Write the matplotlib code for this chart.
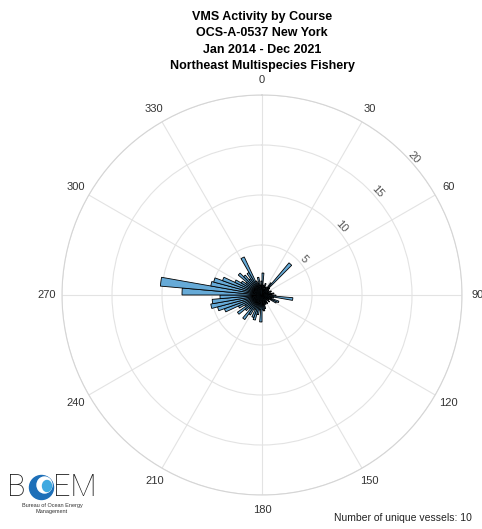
import numpy as np
import matplotlib
matplotlib.use("Agg")
import matplotlib.pyplot as plt
import matplotlib.patches as patches

plt.rcParams['font.family'] = ['Liberation Sans', 'DejaVu Sans']

bin_start = np.arange(0, 360, 5)
counts = [2.2, 1.0, 0.8, 1.2, 0.6, 0.9, 0.7, 1.5, 4.2, 1.0, 0.5, 0.8,
          0.6, 1.0, 0.7, 0.9, 1.2, 1.0, 1.4, 3.1, 1.2, 1.0, 1.8, 1.6,
          0.8, 0.6, 1.0, 0.7, 0.5, 1.0, 0.8, 1.0, 0.9, 1.4, 1.6, 1.5,
          2.7, 1.5, 2.0, 2.6, 2.4, 1.6, 2.3, 3.0, 1.8, 2.2, 3.0, 2.0,
          2.6, 4.0, 4.6, 5.2, 5.0, 4.2, 8.0, 10.2, 5.2, 5.0, 4.2, 3.0,
          2.4, 2.0, 3.1, 2.6, 2.0, 2.6, 4.2, 1.5, 1.2, 1.8, 1.0, 1.4]

theta_ticks = list(range(0, 360, 30))
r_ticks = [5, 10, 15, 20]
title_lines = ["VMS Activity by Course", "OCS-A-0537 New York",
               "Jan 2014 - Dec 2021", "Northeast Multispecies Fishery"]
n_vessels = 10

W, H = 482, 529
fig = plt.figure(figsize=(W / 100, H / 100), dpi=100)

# polar rose
cx, cy, R = 262, 295, 200
ax = fig.add_axes([(cx - R) / W, (H - cy - R) / H, 2 * R / W, 2 * R / H], projection='polar')
ax.set_theta_zero_location('N')
ax.set_theta_direction(-1)
ax.bar(np.deg2rad(bin_start + 2.5), counts, width=np.deg2rad(5),
       color=(0.4, 0.668, 0.845), edgecolor='black', linewidth=0.6, zorder=3)
ax.set_ylim(0, 20)
ax.set_yticks(r_ticks)
ax.set_yticklabels([str(r) for r in r_ticks], fontsize=8, color='#555555')
ax.set_rlabel_position(46)
ax.tick_params(axis='y', labelrotation=-47, pad=-3)
ax.set_xticks(np.deg2rad(theta_ticks))
ax.set_xticklabels([str(t) for t in theta_ticks], fontsize=8, color='#333333')
ax.tick_params(axis='x', pad=0.5)
ax.grid(True, color='#e3e3e3', linewidth=0.8)
ax.spines['polar'].set_color('#d5d5d5')
ax.spines['polar'].set_linewidth(0.8)

# title
for i, line in enumerate(title_lines):
    fig.text(cx / W, 1 - (17 + 16.5 * i) / H, line, ha='center', va='center',
             fontsize=9, fontweight='bold', color='black')

fig.text(472 / W, 1 - 518 / H, "Number of unique vessels: %d" % n_vessels,
         ha='right', va='center', fontsize=7.5, color='#222222')

# BOEM logo
lx = fig.add_axes([0, 0, 1, 1], facecolor='none')
lx.set_xlim(0, W)
lx.set_ylim(H, 0)
lx.axis('off')
logo_font = ['Roboto', 'DejaVu Sans']
lx.text(7, 487, "B", fontsize=22, fontweight='light', color='#1a1a1a',
        ha='left', va='center', family=logo_font)
lx.add_patch(patches.Ellipse((41.5, 487.5), 24, 24, color='#1d6fb8'))
lx.add_patch(patches.Ellipse((44.5, 485), 15, 16, color='white'))
lx.add_patch(patches.Ellipse((47, 486), 9, 11, color='#3fa9e0'))
lx.text(53, 487, "EM", fontsize=22, fontweight='light', color='#1a1a1a',
        ha='left', va='center', family=logo_font)
lx.text(52, 505, "Bureau of Ocean Energy", fontsize=4, color='#333333', ha='center', va='center')
lx.text(52, 511, "Management", fontsize=4, color='#333333', ha='center', va='center')

fig.savefig("out.png", dpi=100)
